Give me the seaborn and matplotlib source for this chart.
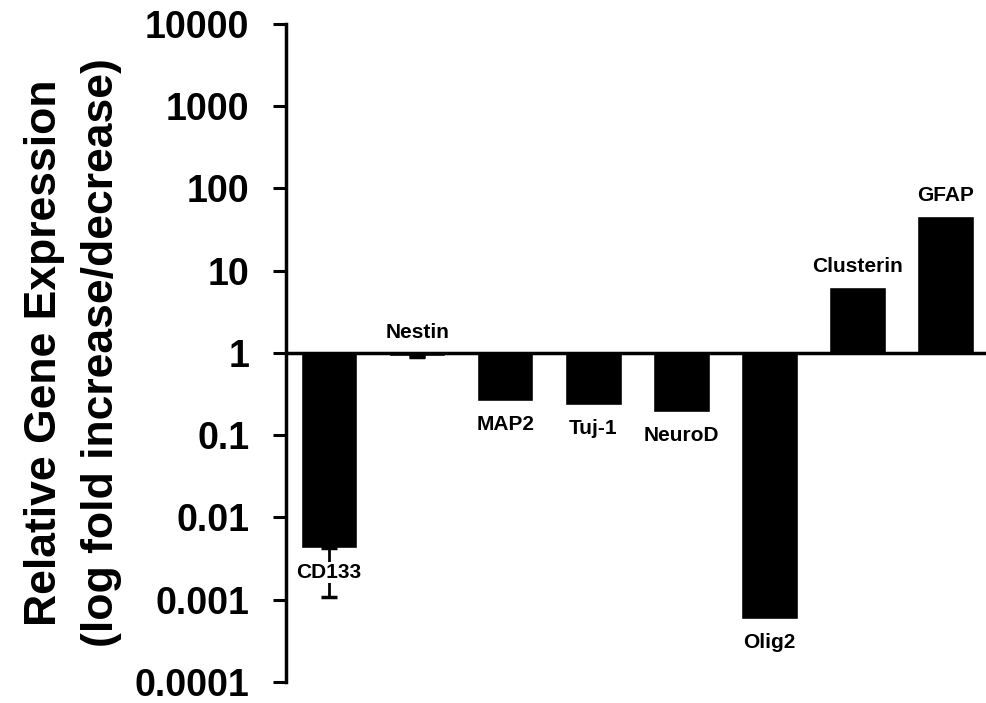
import matplotlib
matplotlib.use("Agg")
import matplotlib.pyplot as plt
import numpy as np
import seaborn as sns

# Fold change relative to control (1 = no change).
genes = ["CD133", "Nestin", "MAP2", "Tuj-1", "NeuroD", "Olig2", "Clusterin", "GFAP"]
fold_change = [0.0042, 0.93, 0.26, 0.234, 0.192, 0.00059, 6.3, 46.0]
# Lower end of the error bar (same as value where no error bar is visible).
fold_lower = [0.00107, 0.89, 0.26, 0.234, 0.192, 0.00059, 6.3, 46.0]
label_above = [False, True, False, False, False, False, True, True]
tick_exponents = list(range(-4, 5))
tick_labels = ["0.0001", "0.001", "0.01", "0.1", "1", "10", "100", "1000", "10000"]

sns.set_theme(style="white")
plt.rcParams["font.family"] = ["Liberation Sans", "DejaVu Sans"]
plt.rcParams["font.weight"] = "bold"
plt.rcParams["text.color"] = "black"
plt.rcParams["axes.labelcolor"] = "black"
plt.rcParams["ytick.color"] = "black"

log_fold = np.log10(fold_change)
log_lower = np.log10(fold_lower)

fig = plt.figure(figsize=(9.87, 7.03), dpi=100)
ax = fig.add_axes([0.2898, 0.0299, 0.7102, 0.936])

sns.barplot(x=genes, y=log_fold, color="black", saturation=1, width=0.64,
            errorbar=None, ax=ax)

# one-sided (downward) error bars
x_pos = np.arange(len(genes))
low_err = log_fold - log_lower
has_err = low_err > 1e-6
ax.errorbar(x_pos[has_err], log_fold[has_err],
            yerr=[low_err[has_err], np.zeros(has_err.sum())],
            fmt="none", ecolor="black", elinewidth=2, capsize=6, capthick=2.5, zorder=2)

ax.axhline(0, color="black", linewidth=2.5, zorder=4)

for xi, name, val, above in zip(x_pos, genes, log_fold, label_above):
    anchor = max(val, 0) if above else val
    ax.annotate(name, (xi, anchor), xytext=(0, 15 if above else -17),
                textcoords="offset points", ha="center", va="center",
                fontsize=15, fontweight="bold", color="black", zorder=5,
                bbox=dict(boxstyle="square,pad=0.05", fc="white", ec="none"))

ax.set_xlim(-0.49, 7.47)
ax.set_ylim(-4, 4)
ax.set_yticks(tick_exponents)
ax.set_yticklabels(tick_labels, fontsize=27, fontweight="bold")
ax.set_xticks([])
ax.set_xlabel("")
ax.set_ylabel("Relative Gene Expression\n(log fold increase/decrease)",
              fontsize=32, fontweight="bold", labelpad=9, linespacing=1.5)
ax.tick_params(axis="y", direction="out", length=9.5, width=2.2, pad=17, left=True)

for side in ["top", "right", "bottom"]:
    ax.spines[side].set_visible(False)
ax.spines["left"].set_linewidth(2.5)
ax.spines["left"].set_color("black")
ax.set_facecolor("white")

fig.savefig("out.png", dpi=100, facecolor="white")
